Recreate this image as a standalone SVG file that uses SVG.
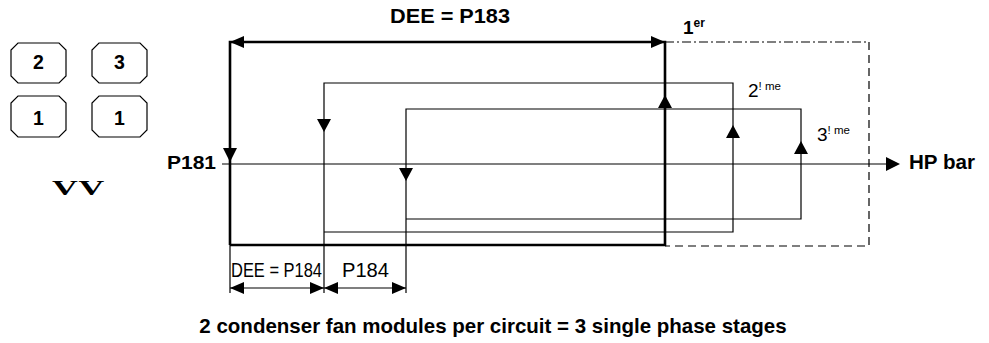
<svg xmlns="http://www.w3.org/2000/svg" width="989" height="343" viewBox="0 0 989 343">
<style>
  text { font-family: "Liberation Sans", Arial, sans-serif; fill: #000; }
  text.serif { font-family: "Liberation Serif", "Times New Roman", serif; }
  .b { font-weight: bold; }
  .thick { stroke: #000; stroke-width: 2.6; fill: none; }
  .thin { stroke: #000; stroke-width: 1.2; fill: none; }
  .box { stroke: #000; stroke-width: 1.2; fill: #fff; }
  .ah { fill: #000; stroke: none; }
</style>
<rect width="989" height="343" fill="#fff"/>

<g id="modules">
  <g id="box-2">
    <polygon class="box" points="18,43 59,43 66,50 66,76 59,83 18,83 11,76 11,50"/>
    <text class="b" x="38.5" y="69" font-size="19.5" text-anchor="middle">2</text>
  </g>
  <g id="box-3">
    <polygon class="box" points="99,43 140,43 147,50 147,76 140,83 99,83 92,76 92,50"/>
    <text class="b" x="119.5" y="69" font-size="19.5" text-anchor="middle">3</text>
  </g>
  <g id="box-1a">
    <polygon class="box" points="18,96 59,96 66,103 66,130 59,137 18,137 11,130 11,103"/>
    <text class="b" x="38.5" y="125" font-size="19.5" text-anchor="middle">1</text>
  </g>
  <g id="box-1b">
    <polygon class="box" points="99,96 140,96 147,103 147,130 140,137 99,137 92,130 92,103"/>
    <text class="b" x="119.5" y="125" font-size="19.5" text-anchor="middle">1</text>
  </g>
  <text class="serif b" transform="translate(52,195) scale(1.7,1)" x="0" y="0" font-size="21" letter-spacing="0.5">VV</text>
</g>

<g id="connectors">
  <polyline class="thick" points="230,245 230,42 665,42 665,245 230,245"/>
  <line x1="665" y1="42" x2="869" y2="42" stroke="#000" stroke-width="1.2" stroke-dasharray="9,3,2,3"/>
  <polyline points="869,42 869,246 665,246" fill="none" stroke="#000" stroke-width="1.2" stroke-dasharray="8,5"/>
  <polyline class="thin" points="324,293 324,83 733,83 733,232 324,232"/>
  <polyline class="thin" points="406,293 406,109 801,109 801,219 406,219"/>
  <line class="thin" x1="222" y1="164" x2="888" y2="164"/>
  <line class="thin" x1="230" y1="245" x2="230" y2="293"/>
  <line class="thin" x1="230" y1="288" x2="406" y2="288"/>

  <polygon class="ah" points="230,42 244,36 244,48"/>
  <polygon class="ah" points="665,42 651,36 651,48"/>
  <polygon class="ah" points="230,162 223,148 237,148"/>
  <polygon class="ah" points="665,95 658,108 672,108"/>
  <polygon class="ah" points="324,132 317,119 331,119"/>
  <polygon class="ah" points="733,125 726,138 740,138"/>
  <polygon class="ah" points="406,181 399,168 413,168"/>
  <polygon class="ah" points="801,141 794,154 808,154"/>
  <polygon class="ah" points="900,164 886,157 886,171"/>
  <polygon class="ah" points="230,288 244,282 244,294"/>
  <polygon class="ah" points="324,288 310,282 310,294"/>
  <polygon class="ah" points="324,288 338,282 338,294"/>
  <polygon class="ah" points="406,288 392,282 392,294"/>
</g>

<g id="labels">
  <text class="b" x="390" y="23" font-size="20" textLength="120" lengthAdjust="spacingAndGlyphs">DEE = P183</text>
  <text class="b" x="683" y="34" font-size="19">1<tspan font-size="12" dy="-7">er</tspan></text>
  <text x="748" y="97" font-size="19">2<tspan font-size="11.5" dy="-7">! me</tspan></text>
  <text x="817" y="141" font-size="19">3<tspan font-size="11.5" dy="-7">! me</tspan></text>
  <text class="b" x="909" y="169" font-size="19.5" textLength="66" lengthAdjust="spacingAndGlyphs">HP bar</text>
  <text class="b" x="167" y="169" font-size="19" textLength="49" lengthAdjust="spacingAndGlyphs">P181</text>
  <text x="231" y="277" font-size="19.5" textLength="91" lengthAdjust="spacingAndGlyphs">DEE = P184</text>
  <text x="342" y="277" font-size="19.5" textLength="47" lengthAdjust="spacingAndGlyphs">P184</text>
  <text class="b" x="493" y="333" font-size="20.5" text-anchor="middle">2 condenser fan modules per circuit = 3 single phase stages</text>
</g>
</svg>
